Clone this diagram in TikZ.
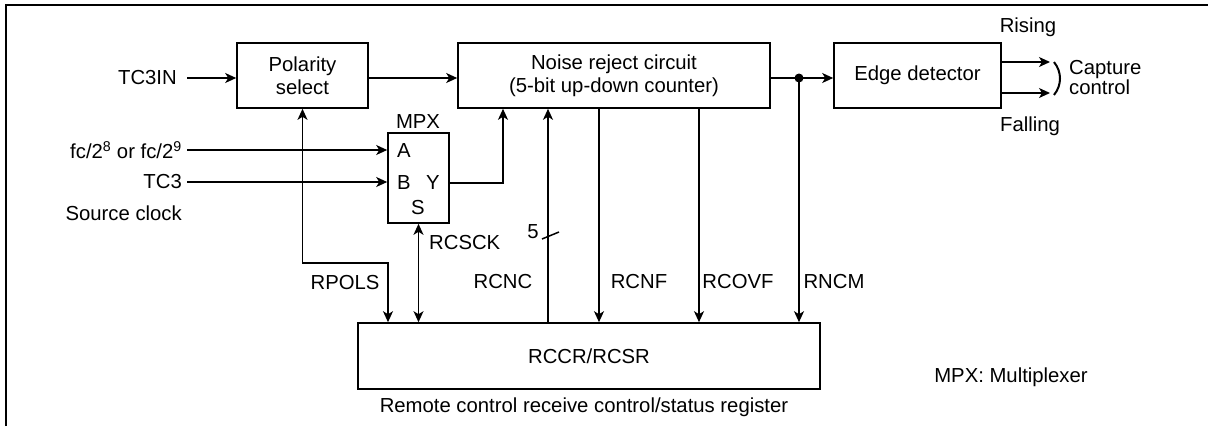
\documentclass[tikz,border=0pt]{standalone}
\usepackage{fontspec}
\setmainfont{Liberation Sans}
\usetikzlibrary{arrows.meta}
\begin{document}
\begin{tikzpicture}[x=1pt,y=-1pt,
  every node/.style={font=\fontsize{20.3}{23.5}\selectfont},
  blk/.style={draw,line width=1.6pt,inner sep=0pt,align=center},
  lbl/.style={inner sep=0pt},
  wire/.style={line width=1.5pt},
  tip/.style={},
  arr/.style={wire,-{Stealth[length=11pt,width=10pt,inset=3pt]}},
  barr/.style={wire,{Stealth[length=11pt,width=10pt,inset=3pt]}-{Stealth[length=11pt,width=10pt,inset=3pt]}}]
\useasboundingbox (0,0) rectangle (1208,426);
% frame
\draw[line width=2pt] (6,426) -- (6,5) -- (1208,5);
% blocks
\node[blk,minimum width=131pt,minimum height=65pt] (pol) at (302.5,75.5) {Polarity\\select};
\node[blk,minimum width=312pt,minimum height=65pt] (noise) at (614,75.5) {Noise reject circuit\\(5-bit up-down counter)};
\node[blk,minimum width=167pt,minimum height=65pt] (edge) at (917.5,75.5) {Edge detector};
\node[blk,minimum width=61pt,minimum height=90pt] (mpx) at (418.5,178) {};
\node[blk,minimum width=462pt,minimum height=66pt] (rccr) at (589,356) {RCCR/RCSR};
% texts
\node[lbl,anchor=east] (tc3in) at (177,78) {TC3IN};
\node[lbl,anchor=east] (fc) at (182,150) {fc/2\textsuperscript{8} or fc/2\textsuperscript{9}};
\node[lbl,anchor=east] (tc3) at (182,182) {TC3};
\node[lbl,anchor=east] (src) at (182,213) {Source clock};
\node[lbl] (mpxl) at (418,122) {MPX};
\node[lbl] (pa) at (404,151) {A};
\node[lbl] (pb) at (404,183) {B};
\node[lbl] (py) at (433,183) {Y};
\node[lbl] (ps) at (418,208) {S};
\node[lbl] (rising) at (1028,27) {Rising};
\node[lbl] (falling) at (1030,126) {Falling};
\node[lbl,anchor=west,align=left,font=\fontsize{20.3}{20}\selectfont] (cap) at (1069,78) {Capture\\control};
\node[lbl] (rpols) at (345,283) {RPOLS};
\node[lbl,anchor=west] (rcsck) at (429,243) {RCSCK};
\node[lbl] (five) at (533,232) {5};
\node[lbl] (rcnc) at (503,282) {RCNC};
\node[lbl] (rcnf) at (639,282) {RCNF};
\node[lbl] (rcovf) at (738,282) {RCOVF};
\node[lbl] (rncm) at (834,282) {RNCM};
\node[lbl] (mpxm) at (1011,377) {MPX: Multiplexer};
\node[lbl] (reg) at (584,407) {Remote control receive control/status register};
% coordinates
\coordinate (tapin) at (187,78);
\coordinate (dot) at (799,78);
\coordinate (rise) at (1050,62);
\coordinate (fall) at (1050,93);
% connectors
\draw[arr] (tapin) -- (pol.west|-tapin);
\draw[arr] (pol.east|-tapin) -- (noise.west|-tapin);
\draw[wire] (noise.east|-dot) -- (dot);
\draw[arr] (dot) -- (edge.west|-dot);
\fill (dot) circle (4.5pt);
\draw[arr] (fc.east) ++(5,0) -- (mpx.west|-fc.east);
\draw[arr] (tc3.east) ++(5,0) -- (mpx.west|-tc3.east);
\draw[arr] (mpx.east|-py) -- (503,183) -- (noise.south-|503,0);
\draw[barr] (pol.south) -- (302.5,263) -- (388,263) -- (rccr.north-|388,0);
\draw[barr] (mpx.south) -- (rccr.north-|mpx.south);
\draw[arr] (rccr.north-|548,0) -- (noise.south-|548,0);
\draw[wire] (542,239) -- (559,232);
\draw[arr] (noise.south-|599,0) -- (rccr.north-|599,0);
\draw[arr] (noise.south-|699,0) -- (rccr.north-|699,0);
\draw[arr] (dot) -- (rccr.north-|dot);
\draw[arr] (edge.east|-rise) -- (rise);
\draw[arr] (edge.east|-fall) -- (fall);
\draw[line width=2pt] (1054,62) .. controls (1062,72) and (1062,85) .. (1054,95);
\end{tikzpicture}
\end{document}
